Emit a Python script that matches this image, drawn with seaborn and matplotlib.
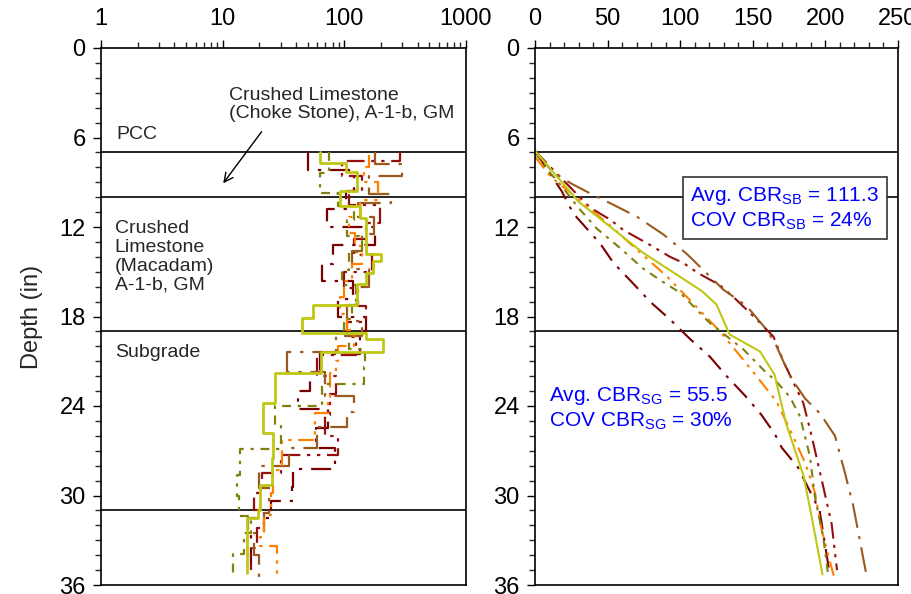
import numpy as np
import matplotlib
matplotlib.use("Agg")
import matplotlib.pyplot as plt
import seaborn as sns
from matplotlib.ticker import FixedLocator, FixedFormatter, MultipleLocator, LogLocator, NullFormatter

sns.set_style("ticks")
plt.rcParams["font.family"] = ["Liberation Sans", "DejaVu Sans"]
plt.rcParams["mathtext.fontset"] = "custom"
plt.rcParams["mathtext.rm"] = "Liberation Sans"
plt.rcParams["mathtext.it"] = "Liberation Sans:italic"
plt.rcParams["mathtext.bf"] = "Liberation Sans:bold"

# ---------------- DCP test series (6 test points) ----------------
series_names = ["DR1", "DR2", "BR", "OR", "OL", "YG"]
series_colors = {"DR1": "#7a0000", "DR2": "#950f0f", "BR": "#9a5a1e",
                 "OR": "#ff8000", "OL": "#80800f", "YG": "#bec814"}
series_styles = {"DR1": (0, (9, 4, 1.5, 4)), "DR2": (0, (8, 3, 1.5, 3, 1.5, 3)),
                 "BR": (0, (12, 4, 1.5, 4)), "OR": (0, (7, 3, 1.5, 3, 1.5, 3)),
                 "OL": (0, (4, 3, 1.5, 3)), "YG": "-"}

# CBR profiles: layer boundaries (in) and CBR (%) of each layer
cbr_depth = {
    "DR1": [6.9, 8.2, 9.6, 10.8, 12.0, 13.2, 14.5, 15.6, 16.8, 18.0, 19.0, 20.5, 21.8,
            23.0, 24.2, 25.5, 26.8, 28.2, 29.4, 30.4, 31.5, 32.5, 34.6],
    "DR2": [7.0, 7.6, 8.6, 9.6, 10.5, 11.7, 12.8, 13.9, 15.0, 16.1, 17.3, 18.4, 19.4,
            20.6, 22.0, 23.2, 24.6, 26.0, 27.3, 28.5, 29.8, 31.0, 32.2, 33.5, 35.0],
    "BR": [7.0, 7.8, 8.6, 9.8, 10.4, 11.3, 12.5, 13.6, 14.8, 16.0, 17.2, 18.3, 19.3,
           20.4, 21.7, 23.3, 24.4, 25.4, 26.8, 28.0, 29.5, 31.2, 32.5, 34.0, 35.5],
    "OR": [7.2, 8.0, 9.0, 10.2, 11.3, 12.4, 13.3, 14.5, 15.6, 16.7, 17.8, 18.9, 20.0,
           21.0, 21.8, 23.4, 24.5, 26.3, 28.3, 29.8, 31.3, 32.8, 33.4, 35.6],
    "OL": [7.0, 8.4, 9.7, 10.6, 11.5, 12.6, 13.7, 14.9, 15.9, 17.0, 18.2, 19.2, 20.2,
           21.4, 22.5, 24.0, 25.2, 26.9, 28.6, 30.0, 31.4, 32.5, 33.9, 35.4],
    "YG": [7.0, 7.7, 8.3, 9.6, 10.6, 11.4, 13.8, 14.3, 15.1, 15.8, 17.2, 18.1, 19.1,
           19.5, 20.35, 21.8, 23.8, 25.8, 27.5, 29.3, 31.0, 31.5, 35.2],
}
cbr_value = {
    "DR1": [50, 121, 104, 72, 178, 80, 65, 118, 88, 150, 134, 63, 52, 42, 73, 59, 84,
            38, 37, 25, 16, 17],
    "DR2": [286, 95, 140, 110, 195, 150, 120, 170, 100, 130, 150, 105, 125, 60, 85, 76,
            70, 88, 30, 21, 18, 22, 19, 17],
    "BR": [180, 297, 160, 240, 130, 175, 140, 115, 160, 125, 105, 140, 85, 34, 70, 120,
           105, 60, 35, 20, 24, 22, 18, 20],
    "OR": [160, 145, 190, 135, 110, 122, 140, 115, 100, 92, 105, 120, 88, 85, 76, 73, 57,
           30.5, 26, 25, 22, 20.2, 27.7],
    "OL": [75, 63, 88, 120, 105, 140, 110, 95, 125, 115, 100, 110, 147, 145, 66, 27, 30,
           14, 13, 13.5, 17, 15, 12.2],
    "YG": [63, 104, 126, 92, 134, 151, 202, 173, 151, 126, 55, 45, 151, 209, 64.5, 26.9,
           21.6, 26.1, 25.3, 20.2, 19.7, 15.7],
}

# Cumulative blows vs. depth
blow_depth = {
    "DR1": [6.9, 9.6, 11.1, 13.1, 14.4, 15.8, 17.0, 18.2, 19.5, 20.7, 22.0, 23.3, 24.6,
            25.9, 26.8, 28.1, 31.0, 35.3],
    "DR2": [6.9, 8.3, 10.7, 11.5, 12.2, 13.2, 14.0, 14.4, 15.1, 15.9, 16.9, 18.2, 19.35,
            21.1, 23.8, 26.0, 29.4, 31.9, 35.0],
    "BR": [6.9, 8.3, 9.1, 9.8, 10.4, 11.3, 11.9, 12.5, 13.8, 15.1, 16.2, 17.3, 18.9, 20.0,
           22.0, 23.5, 24.5, 26.0, 28.5, 30.7, 35.4],
    "OR": [7.3, 8.7, 9.85, 11.9, 13.1, 14.2, 15.3, 16.9, 19.0, 20.9, 23.7, 26.3, 27.8,
           29.8, 32.3, 35.7],
    "OL": [7.0, 8.1, 9.4, 10.7, 12.1, 13.4, 14.8, 15.7, 16.4, 18.45, 20.2, 21.8, 22.25,
           23.4, 24.7, 27.4, 30.1, 32.8, 35.4],
    "YG": [6.9, 8.6, 10.3, 13.7, 14.9, 16.3, 17.2, 19.2, 20.35, 21.9, 25.2, 28.7, 31.4,
           35.3],
}
blow_count = {
    "DR1": [0, 18.4, 26.4, 44.8, 54, 67.7, 79.2, 93, 106.7, 120.5, 132, 144.6, 156,
            165.3, 170, 181, 196, 203],
    "DR2": [0, 13.8, 37.9, 51.7, 60.8, 79.2, 93, 102, 112.5, 127.4, 138.9, 152.7, 164.2,
            171.5, 184.8, 190.5, 198.5, 204.3, 208],
    "BR": [0, 12, 25.2, 39, 51.7, 70, 79.2, 88.4, 104.5, 118.2, 129.7, 145.8, 159.6,
           166.4, 175.6, 186, 196.3, 206.6, 213.5, 219.2, 228.4],
    "OR": [0, 11.5, 26.4, 51.7, 65.4, 78, 90.7, 106.7, 127.4, 143.5, 166.4, 179, 186,
           192.8, 197.4, 206.6],
    "OL": [0, 8, 19.5, 29.8, 42.5, 58.5, 74.6, 88.4, 99.9, 120.5, 143.5, 159.6, 165.3,
           175.6, 182.5, 189.4, 192.8, 198.5, 202],
    "YG": [0, 15, 30, 74, 93, 115, 125, 134, 155, 165, 173, 185, 190.5, 198],
}

# Layer interfaces (in)
layer_bounds_left = [7, 10, 19, 31]
layer_bounds_right = [7, 10, 19]

depth_ticks = [0, 6, 12, 18, 24, 30, 36]

fig = plt.figure(figsize=(9.12, 5.94), dpi=100)
axL = fig.add_axes([101 / 912, 1 - 585 / 594, 365 / 912, 537 / 594])
axR = fig.add_axes([535 / 912, 1 - 585 / 594, 363 / 912, 537 / 594])

FS_TICK = 17


def style_depth_axis(ax):
    ax.set_ylim(36, 0)
    ax.yaxis.set_major_locator(FixedLocator(depth_ticks))
    ax.yaxis.set_minor_locator(MultipleLocator(1))
    ax.xaxis.tick_top()
    ax.tick_params(axis="both", which="major", direction="out", length=6, width=1,
                   labelsize=FS_TICK, color="black", labelcolor="black")
    ax.tick_params(axis="y", which="major", length=6, pad=5)
    ax.tick_params(axis="x", which="major", pad=7)
    ax.tick_params(axis="both", which="minor", direction="out", length=4, width=1)
    ax.tick_params(axis="x", which="both", bottom=False, top=True)
    ax.tick_params(axis="y", which="both", right=False, left=True)
    for s in ax.spines.values():
        s.set_visible(True)
        s.set_linewidth(1.2)
        s.set_color("black")
    ax.set_xlabel("")
    ax.set_ylabel("")


# ---------------- Left: CBR profiles (log scale) ----------------
axL.set_xscale("log")
for name in series_names:
    d = np.asarray(cbr_depth[name], dtype=float)
    c = np.asarray(cbr_value[name], dtype=float)
    xs = np.repeat(c, 2)
    ys = np.repeat(d, 2)[1:-1]
    sns.lineplot(x=xs, y=ys, sort=False, estimator=None, ax=axL, legend=False,
                 color=series_colors[name], linestyle=series_styles[name],
                 linewidth=2.0 if name == "YG" else 1.6)
for b in layer_bounds_left:
    axL.axhline(b, color="black", lw=1.2, zorder=1)
axL.set_xlim(1, 1000)
style_depth_axis(axL)
axL.xaxis.set_major_locator(FixedLocator([1, 10, 100, 1000]))
axL.xaxis.set_major_formatter(FixedFormatter(["1", "10", "100", "1000"]))
axL.xaxis.set_minor_locator(LogLocator(base=10, subs=np.arange(2, 10)))
axL.xaxis.set_minor_formatter(NullFormatter())
axL.set_ylabel("Depth (in)", fontsize=17, labelpad=12)

FS_NOTE = 14
axL.text(1.33, 5.8, "PCC", fontsize=FS_NOTE, va="center", ha="left")
axL.text(1.3, 14.0, "Crushed\nLimestone\n(Macadam)\nA-1-b, GM", fontsize=FS_NOTE,
         va="center", ha="left", linespacing=1.12)
axL.text(1.3, 20.4, "Subgrade", fontsize=FS_NOTE, va="center", ha="left")
axL.text(11.3, 3.8, "Crushed Limestone\n(Choke Stone), A-1-b, GM", fontsize=FS_NOTE,
         va="center", ha="left", linespacing=1.12)
axL.annotate("", xy=(10.1, 9.07), xytext=(20.9, 5.61),
             arrowprops=dict(arrowstyle="->", lw=1.0, color="black", mutation_scale=16,
                             shrinkA=0, shrinkB=0))

# ---------------- Right: cumulative blows ----------------
for name in series_names:
    sns.lineplot(x=np.asarray(blow_count[name], dtype=float),
                 y=np.asarray(blow_depth[name], dtype=float),
                 sort=False, estimator=None, ax=axR, legend=False,
                 color=series_colors[name], linestyle=series_styles[name],
                 linewidth=1.5)
for b in layer_bounds_right:
    axR.axhline(b, color="black", lw=1.2, zorder=1)
axR.set_xlim(0, 250)
style_depth_axis(axR)
axR.xaxis.set_major_locator(MultipleLocator(50))
axR.xaxis.set_minor_locator(MultipleLocator(10))

FS_STAT = 15
axR.text(107, 10.75,
         "Avg. CBR$_{\\rm SB}$ = 111.3\nCOV CBR$_{\\rm SB}$ = 24%",
         color="#0000ff", fontsize=FS_STAT, va="center", ha="left", linespacing=1.25,
         zorder=5,
         bbox=dict(boxstyle="square,pad=0.35", facecolor="white", edgecolor="#333333",
                   linewidth=1.2))
axR.text(9.6, 24.15,
         "Avg. CBR$_{\\rm SG}$ = 55.5\nCOV CBR$_{\\rm SG}$ = 30%",
         color="#0000ff", fontsize=FS_STAT, va="center", ha="left", linespacing=1.25,
         zorder=5)

fig.savefig("out.png", dpi=100)
